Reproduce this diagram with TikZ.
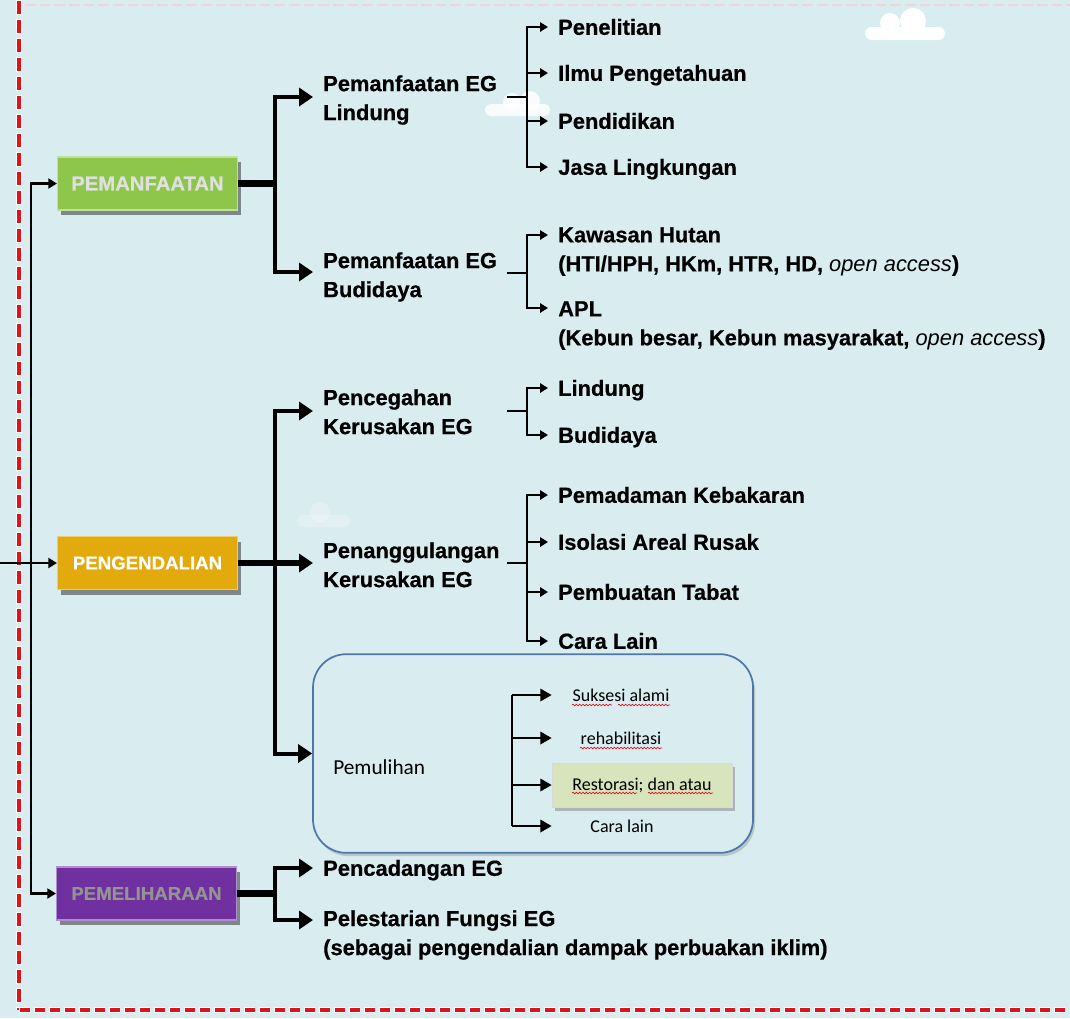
\documentclass[tikz,border=0pt]{standalone}
\usepackage{fontspec}
\setmainfont{Liberation Sans}[BoldFeatures={FakeBold=0.6}]
\newfontfamily\calib{Carlito}
\usetikzlibrary{arrows.meta,shadows,calc,decorations.pathmorphing}
\definecolor{bg}{RGB}{217,236,240}
\definecolor{cgreen}{RGB}{141,198,74}
\definecolor{cgold}{RGB}{226,170,12}
\definecolor{cpurple}{RGB}{112,48,160}
\definecolor{cblue}{RGB}{79,120,170}
\definecolor{clight}{RGB}{215,228,188}
\definecolor{cred}{RGB}{222,20,28}
\definecolor{ctop}{RGB}{238,214,214}
\begin{document}
\begin{tikzpicture}[x=0.75pt,y=-0.75pt,
  lbl/.style={font=\bfseries\fontsize{16.4}{21.75}\selectfont, inner sep=0pt, anchor=west, text height=11.7pt, text depth=0pt},
  mlbl/.style={font=\bfseries\fontsize{16.4}{21.75}\selectfont, inner sep=0pt, anchor=north west, align=left},
  catbox/.style={minimum width=135pt, minimum height=39.75pt, inner sep=0pt, font=\bfseries\fontsize{14}{16}\selectfont, line width=0.8pt, drop shadow={shadow xshift=2.5pt, shadow yshift=-4pt, opacity=0.55, fill=black!80}},
  pboxst/.style={rectangle, rounded corners=25pt, minimum width=330pt, minimum height=149pt, draw=cblue, line width=1.3pt, fill=bg, drop shadow={shadow xshift=1.5pt, shadow yshift=-2.5pt, opacity=0.35}},
  greenbox/.style={minimum width=135pt, minimum height=33pt, inner sep=0pt, fill=clight, draw=white!85!black, line width=0.6pt, font=\calib\fontsize{13.5}{15}\selectfont, drop shadow={shadow xshift=2pt, shadow yshift=-3pt, opacity=0.5}},
  cal/.style={font=\calib\fontsize{13.5}{15}\selectfont, inner sep=0pt},
  trunkarr/.style={line width=2.2pt, -{Triangle[length=6.5pt,width=7.5pt]}},
  arr1/.style={line width=3pt, -{Triangle[length=10.5pt,width=13.5pt]}},
  stub1/.style={line width=5pt},
  l2/.style={line width=2.2pt},
  arr2/.style={line width=2.2pt, -{Triangle[length=6pt,width=7pt]}},
  l3/.style={line width=1.1pt},
  arr3/.style={line width=1.1pt, -{Triangle[length=8.5pt,width=9.5pt]}},
  wavy/.style={cred, line width=0.5pt, decorate, decoration={snake, amplitude=0.6pt, segment length=2.5pt}},
  borderw/.style={draw=white, line width=4pt},
  borderr/.style={draw=cred, line width=2.8pt}
]
\useasboundingbox (0,0) rectangle (1070,1018);
\fill[bg] (0,0) rectangle (1070,1018);

% clouds
\fill[white] [rounded corners=5pt] (865,27) rectangle (945,40);
\fill[white] (890,23) circle[radius=10];
\fill[white] (913,21) circle[radius=13];
\fill[white, opacity=0.85] [rounded corners=4pt] (485,104) rectangle (550,116);
\fill[white, opacity=0.85] (512,102) circle[radius=9];
\fill[white, opacity=0.85] (530,101) circle[radius=10];
\fill[white, opacity=0.25] [rounded corners=4pt] (297,515) rectangle (350,527);
\fill[white, opacity=0.25] (320,512) circle[radius=10];

% border
\draw[ctop, line width=1.2pt, dash pattern=on 8pt off 3pt] (25,5) -- (1070,5);
\path[borderw, dash pattern=on 11pt off 3.25pt] (19,0) -- (19,1010);
\path[borderr, dash pattern=on 9.8pt off 4.45pt, dash phase=-0.6pt] (19,0) -- (19,1010);
\path[borderw, dash pattern=on 8.5pt off 2.75pt] (19,1010) -- (1068,1010);
\path[borderr, dash pattern=on 7.3pt off 3.95pt, dash phase=-0.6pt] (19,1010) -- (1068,1010);

% category boxes
\node[catbox, fill=cgreen, draw=cgreen!55!white, text=white!88!black, font=\bfseries\fontsize{15.2}{17}\selectfont] (pemanf) at (147.5,183.5) {PEMANFAATAN};
\node[catbox, fill=cgold, draw=cgold!60!white, text=white] (peng) at (147.5,563) {PENGENDALIAN};
\node[catbox, fill=cpurple, draw=cpurple!55!white, text=black!42] (pemel) at (146.5,893.5) {PEMELIHARAAN};

% pemulihan box
\node[pboxst] (pbx) at (533,753.5) {};

% level 1 labels
\node[mlbl] (lind) at (323,75) {Pemanfaatan EG\\Lindung};
\node[mlbl] (budi) at (323,252) {Pemanfaatan EG\\Budidaya};
\node[mlbl] (penc) at (323,389) {Pencegahan\\Kerusakan EG};
\node[mlbl] (penang) at (323,542) {Penanggulangan\\Kerusakan EG};
\node[cal, anchor=west, font=\calib\fontsize{16}{18}\selectfont] (pemul) at (333,767) {Pemulihan};
\node[lbl] (pencad) at (323,868) {Pencadangan EG};
\node[mlbl] (pelest) at (323,910) {Pelestarian Fungsi EG\\(sebagai pengendalian dampak perbuakan iklim)};

% level 2 labels
\node[lbl] (penel) at (558,27) {Penelitian};
\node[lbl] (ilmu) at (558,73) {Ilmu Pengetahuan};
\node[lbl] (pendi) at (558,121) {Pendidikan};
\node[lbl] (jasa) at (558,167) {Jasa Lingkungan};
\node[mlbl] (kaw) at (558,227) {Kawasan Hutan\\(HTI/HPH, HKm, HTR, HD, {\mdseries\itshape open access})};
\node[mlbl] (apl) at (558,301) {APL\\(Kebun besar, Kebun masyarakat, {\mdseries\itshape open access})};
\node[lbl] (lindB) at (558,388) {Lindung};
\node[lbl] (budiB) at (558,435) {Budidaya};
\node[lbl] (pemad) at (558,495) {Pemadaman Kebakaran};
\node[lbl] (isol) at (558,542) {Isolasi Areal Rusak};
\node[lbl] (tabat) at (558,592) {Pembuatan Tabat};
\node[lbl] (caraL) at (558,641) {Cara Lain};

% pemulihan items
\node[cal] (suk) at (621,695) {Suksesi alami};
\node[cal] (reha) at (621,738) {rehabilitasi};
\node[greenbox] (rest) at (642,785) {Restorasi; dan atau};
\node[cal] (caral) at (622,826) {Cara lain};

% spell-check underlines
\draw[wavy] ($(suk.center)+(-49,10)$) -- ($(suk.center)+(-9,10)$);
\draw[wavy] ($(suk.center)+(-3,10)$) -- ($(suk.center)+(49,10)$);
\draw[wavy] ($(reha.center)+(-41,10)$) -- ($(reha.center)+(41,10)$);
\draw[wavy] ($(rest.center)+(-70,8)$) -- ($(rest.center)+(-5,8)$);
\draw[wavy] ($(rest.center)+(6,8)$) -- ($(rest.center)+(71,8)$);

% trunk
\coordinate (tin) at (0,563);
\coordinate (tj) at (31,563);
\draw[trunkarr] (tin) -- (peng.west);
\draw[trunkarr] (tj) |- (pemanf.west);
\draw[trunkarr] (tj) |- (pemel.west);

% PEMANFAATAN
\coordinate (j1) at (275,183.5);
\draw[arr1] (j1) |- ($(lind.north west)+(-10,22)$);
\draw[arr1] (j1) |- ($(budi.north west)+(-10,20)$);
\draw[stub1] (pemanf.east) -- (j1);

% PENGENDALIAN
\coordinate (j2) at (275,563);
\draw[arr1] (j2) |- ($(penc.north west)+(-10,22)$);
\draw[arr1] (j2) |- (pbx.west);
\draw[arr1, line width=5pt] (peng.east) -- ($(penang.north west)+(-10,21)$);

% PEMELIHARAAN
\coordinate (j3) at (275,893.5);
\draw[arr1] (j3) |- ($(pencad.west)+(-10,0)$);
\draw[arr1] (j3) |- ($(pelest.north west)+(-10,10)$);
\draw[stub1] (pemel.east) -- (j3);

% level 2 connectors
\coordinate (s1) at (507,97); \coordinate (k1) at (527,97);
\draw[l2] (s1) -- (k1);
\draw[arr2] (k1) |- ($(penel.west)+(-10,0)$);
\draw[arr2] (k1) |- ($(ilmu.west)+(-10,0)$);
\draw[arr2] (k1) |- ($(pendi.west)+(-10,0)$);
\draw[arr2] (k1) |- ($(jasa.west)+(-10,0)$);

\coordinate (s2) at (507,273); \coordinate (k2) at (527,273);
\draw[l2] (s2) -- (k2);
\draw[arr2] (k2) |- ($(kaw.north west)+(-10,8)$);
\draw[arr2] (k2) |- ($(apl.north west)+(-10,7)$);

\coordinate (s3) at (507,411); \coordinate (k3) at (527,411);
\draw[l2] (s3) -- (k3);
\draw[arr2] (k3) |- ($(lindB.west)+(-10,0)$);
\draw[arr2] (k3) |- ($(budiB.west)+(-10,0)$);

\coordinate (s4) at (507,563); \coordinate (k4) at (527,563);
\draw[l2] (s4) -- (k4);
\draw[arr2] (k4) |- ($(pemad.west)+(-10,0)$);
\draw[arr2] (k4) |- ($(isol.west)+(-10,0)$);
\draw[arr2] (k4) |- ($(tabat.west)+(-10,0)$);
\draw[arr2] (k4) |- ($(caraL.west)+(-10,0)$);

% pemulihan inner connectors
\coordinate (v1) at (512,695);
\coordinate (v2) at (512,826);
\draw[l3] (v1) -- (v2);
\draw[arr3] (v1) -- (rest.west |- suk.west);
\draw[arr3] (v1 |- reha.west) -- (rest.west |- reha.west);
\draw[arr3] (v1 |- rest.west) -- (rest.west);
\draw[arr3] (v2) -- (rest.west |- caral.west);
\end{tikzpicture}
\end{document}
